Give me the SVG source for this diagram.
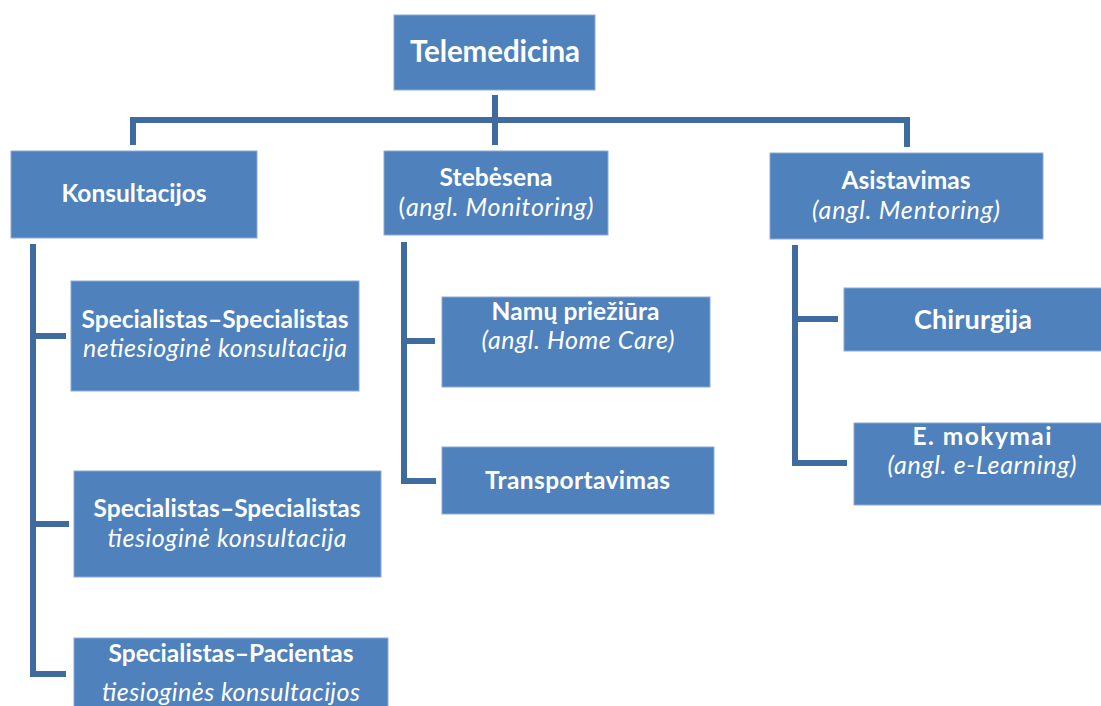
<svg xmlns="http://www.w3.org/2000/svg" width="1101" height="706" viewBox="0 0 1101 706">
  <style>
    .box { fill: #4f81bd; stroke: #8eaad6; stroke-width: 1; }
    .line { fill: none; stroke: #3f6b9f; stroke-width: 6; stroke-linecap: butt; stroke-linejoin: miter; }
    text { font-family: "Lato", "Open Sans", sans-serif; fill: #ffffff; text-anchor: middle; }
    .b { font-weight: bold; font-size: 24.5px; }
    .i { font-style: italic; font-size: 25px; }
    .root { font-weight: bold; font-size: 29.5px; }
    .big { font-weight: bold; font-size: 27px; }
  </style>

  <!-- connectors -->
  <g id="connectors">
    <path class="line" d="M495,95 V145"/>
    <path class="line" d="M133,145 V120 H907 V147"/>
    <!-- Konsultacijos branch -->
    <path class="line" d="M33,244 V674 H66"/>
    <path class="line" d="M33,336 H66"/>
    <path class="line" d="M33,524 H69"/>
    <!-- Stebėsena branch -->
    <path class="line" d="M404,242 V481 H436"/>
    <path class="line" d="M404,341 H435"/>
    <!-- Asistavimas branch -->
    <path class="line" d="M795,245 V463 H847"/>
    <path class="line" d="M795,319 H838"/>
  </g>

  <g id="telemedicina">
    <rect class="box" x="394" y="15" width="201" height="75"/>
    <text class="root" x="495" y="62" textLength="170">Telemedicina</text>
  </g>

  <g id="konsultacijos">
    <rect class="box" x="11" y="151" width="246" height="87"/>
    <text class="b" x="134" y="202" textLength="145">Konsultacijos</text>
  </g>

  <g id="stebesena">
    <rect class="box" x="384" y="151" width="224" height="84"/>
    <text class="b" x="496" y="186" textLength="113">Stebėsena</text>
    <text x="496" y="216" class="i" textLength="195"><tspan font-style="normal">(</tspan>angl. Monitoring)</text>
  </g>

  <g id="asistavimas">
    <rect class="box" x="770" y="153" width="273" height="86"/>
    <text class="b" x="906" y="189" textLength="129">Asistavimas</text>
    <text class="i" x="906" y="219" textLength="188">(angl. Mentoring)</text>
  </g>

  <g id="spec-spec-netiesiogine">
    <rect class="box" x="71" y="281" width="288" height="110"/>
    <text class="b" x="215" y="328" textLength="267">Specialistas–Specialistas</text>
    <text class="i" x="215" y="357" textLength="264">netiesioginė konsultacija</text>
  </g>

  <g id="spec-spec-tiesiogine">
    <rect class="box" x="74" y="471" width="307" height="106"/>
    <text class="b" x="227" y="517" textLength="267">Specialistas–Specialistas</text>
    <text class="i" x="227" y="547" textLength="239">tiesioginė konsultacija</text>
  </g>

  <g id="spec-pacientas">
    <rect class="box" x="74" y="638" width="314" height="80"/>
    <text class="b" x="231" y="662" textLength="245">Specialistas–Pacientas</text>
    <text class="i" x="231" y="701" textLength="258">tiesioginės konsultacijos</text>
  </g>

  <g id="namu-prieziura">
    <rect class="box" x="442" y="297" width="268" height="90"/>
    <text class="b" x="575.5" y="320" textLength="168">Namų priežiūra</text>
    <text class="i" x="578" y="349" textLength="193">(angl. Home Care)</text>
  </g>

  <g id="transportavimas">
    <rect class="box" x="442" y="447" width="272" height="67"/>
    <text class="b" x="577.5" y="489" textLength="185">Transportavimas</text>
  </g>

  <g id="chirurgija">
    <rect class="box" x="844" y="288" width="262" height="63"/>
    <text class="big" x="973" y="329" textLength="118">Chirurgija</text>
  </g>

  <g id="e-mokymai">
    <rect class="box" x="854" y="423" width="252" height="82"/>
    <text class="b" x="982" y="445" textLength="139">E. mokymai</text>
    <text class="i" x="982" y="474" textLength="189">(angl. e-Learning)</text>
  </g>
</svg>
